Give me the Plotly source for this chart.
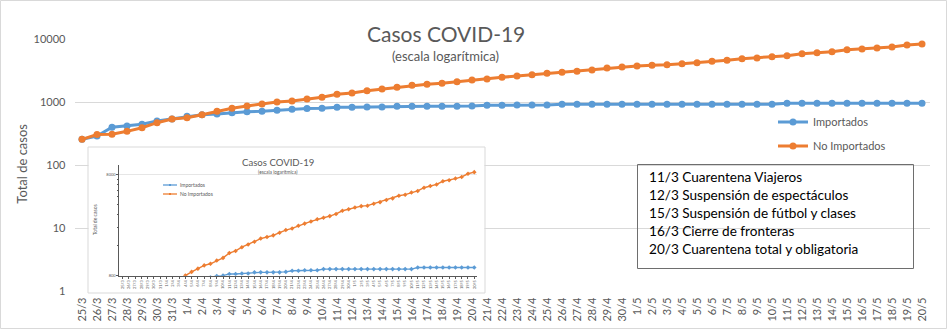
import plotly.graph_objects as go
import math

W, H = 947, 329

dates = (["25/3", "26/3", "27/3", "28/3", "29/3", "30/3", "31/3"]
         + [f"{d}/4" for d in range(1, 31)]
         + [f"{d}/5" for d in range(1, 21)])

importados = [258, 292, 401, 421, 447, 505, 543, 598, 636, 652,
              684, 710, 719, 746, 773, 795, 802, 832, 832, 842,
              842, 863, 863, 863, 863, 863, 873, 895, 895, 906,
              906, 906, 929, 929, 929, 929, 929, 929, 929, 929,
              929, 929, 929, 929, 929, 929, 929, 963, 963, 963,
              963, 963, 963, 963, 963, 963, 963]

no_importados = [258, 308, 312, 346, 395, 475, 543, 570, 636, 719,
                 802, 873, 939, 1011, 1049, 1128, 1199, 1338, 1405, 1530,
                 1626, 1728, 1860, 1929, 2001, 2126, 2259, 2343, 2490, 2615,
                 2746, 2883, 2990, 3101, 3256, 3501, 3631, 3768, 3890, 3930,
                 4105, 4260, 4470, 4639, 4927, 5047, 5298, 5497, 5915, 6139,
                 6370, 6842, 7015, 7278, 7552, 8119, 8424]

main_yticks = [1, 10, 100, 1000, 10000]
inset_yticks = [800, 8000]
inset_minor = [1600, 2400, 3200, 4000, 4800, 5600, 6400, 7200]

notas = ["11/3 Cuarentena Viajeros",
         "12/3 Suspensión de espectáculos",
         "15/3 Suspensión de fútbol y clases",
         "16/3 Cierre de fronteras",
         "20/3 Cuarentena total y obligatoria"]

BLUE = "#5B9BD5"
ORANGE = "#ED7D31"
GRAY = "#595959"
GRID = "#D9D9D9"
FONT = "Lato"


def px(x):
    return x / W


def py(y):
    return 1 - y / H


fig = go.Figure()

# main series
fig.add_trace(go.Scatter(x=dates, y=importados, name="Importados", mode="lines+markers",
                         line=dict(color=BLUE, width=3), marker=dict(size=7, color=BLUE),
                         legendgroup="a", xaxis="x", yaxis="y"))
fig.add_trace(go.Scatter(x=dates, y=no_importados, name="No Importados", mode="lines+markers",
                         line=dict(color=ORANGE, width=3), marker=dict(size=7, color=ORANGE),
                         legendgroup="b", xaxis="x", yaxis="y"))

# white box behind inset (empty subplot)
fig.add_trace(go.Scatter(x=[], y=[], xaxis="x2", yaxis="y2", showlegend=False, hoverinfo="skip"))

# inset series
fig.add_trace(go.Scatter(x=dates, y=importados, name="Importados", mode="lines+markers",
                         line=dict(color=BLUE, width=1.4), marker=dict(size=3.5, color=BLUE, symbol="diamond"),
                         showlegend=False, xaxis="x3", yaxis="y3"))
fig.add_trace(go.Scatter(x=dates, y=no_importados, name="No Importados", mode="lines+markers",
                         line=dict(color=ORANGE, width=1.4), marker=dict(size=3.5, color=ORANGE, symbol="diamond"),
                         showlegend=False, xaxis="x3", yaxis="y3"))

shapes = []
annotations = []

# outer border
shapes.append(dict(type="rect", xref="paper", yref="paper",
                   x0=px(0.5), x1=px(946.5), y0=py(328.5), y1=py(0.5),
                   line=dict(color=GRID, width=1)))
# inset border
shapes.append(dict(type="rect", xref="paper", yref="paper",
                   x0=px(88), x1=px(485), y0=py(293), y1=py(147),
                   line=dict(color=GRID, width=1)))
# notes box
shapes.append(dict(type="rect", xref="paper", yref="paper",
                   x0=px(637.5), x1=px(913.5), y0=py(268.5), y1=py(164.5),
                   line=dict(color="#6E6E6E", width=1)))

# titles
annotations.append(dict(text="Casos COVID-19", x=px(445.7), y=py(33.5), xref="paper", yref="paper",
                        xanchor="center", yanchor="middle", showarrow=False,
                        font=dict(family=FONT, size=21, color=GRAY)))
annotations.append(dict(text="(escala logarítmica)", x=px(445.5), y=py(56), xref="paper", yref="paper",
                        xanchor="center", yanchor="middle", showarrow=False,
                        font=dict(family=FONT, size=13, color=GRAY)))
annotations.append(dict(text="Total de casos", x=px(21.7), y=py(164), xref="paper", yref="paper",
                        xanchor="center", yanchor="middle", showarrow=False, textangle=-90,
                        font=dict(family=FONT, size=13, color=GRAY)))

# notes text
note_y = [176.7, 194.8, 212.9, 231.0, 249.0]
for t, yy in zip(notas, note_y):
    annotations.append(dict(text=t, x=px(646.5), y=py(yy), xref="paper", yref="paper",
                            xanchor="left", yanchor="middle", showarrow=False,
                            font=dict(family=FONT, size=13.6, color="#000000")))

# inset texts
annotations.append(dict(text="Casos COVID-19", x=px(277.7), y=py(162.3), xref="paper", yref="paper",
                        xanchor="center", yanchor="middle", showarrow=False,
                        font=dict(family=FONT, size=9.6, color=GRAY)))
annotations.append(dict(text="(escala logarítmica)", x=px(277.7), y=py(172.3), xref="paper", yref="paper",
                        xanchor="center", yanchor="middle", showarrow=False,
                        font=dict(family=FONT, size=4.8, color=GRAY)))
annotations.append(dict(text="Total de casos", x=px(95), y=py(220), xref="paper", yref="paper",
                        xanchor="center", yanchor="middle", showarrow=False, textangle=-90,
                        font=dict(family=FONT, size=5, color=GRAY)))

# inset legend (manual)
for name, col, yy in [("Importados", BLUE, 185), ("No Importados", ORANGE, 194)]:
    shapes.append(dict(type="line", xref="paper", yref="paper", x0=px(163), x1=px(177),
                       y0=py(yy), y1=py(yy), line=dict(color=col, width=1.3)))
    shapes.append(dict(type="rect", xref="paper", yref="paper", x0=px(169), x1=px(171),
                       y0=py(yy + 1), y1=py(yy - 1), fillcolor=col, line=dict(width=0)))
    annotations.append(dict(text=name, x=px(177.5), y=py(yy), xref="paper", yref="paper",
                            xanchor="left", yanchor="middle", showarrow=False,
                            font=dict(family=FONT, size=5, color=GRAY)))

fig.update_layout(
    template="none",
    width=W, height=H,
    margin=dict(l=0, r=0, t=0, b=0, pad=0, autoexpand=False),
    paper_bgcolor="white", plot_bgcolor="white",
    font=dict(family=FONT, color=GRAY),
    showlegend=True,
    legend=dict(x=px(773), y=py(107.5), xanchor="left", yanchor="top",
                font=dict(family=FONT, size=11, color=GRAY),
                bgcolor="rgba(0,0,0,0)", tracegroupgap=5, traceorder="grouped"),
    shapes=shapes,
    annotations=annotations,
    xaxis=dict(domain=[px(74.5), px(929.5)], anchor="y", type="category", automargin=False,
               range=[-0.5, len(dates) - 0.5], tickangle=-90, dtick=1,
               tickfont=dict(family=FONT, size=11, color=GRAY),
               showgrid=False, showline=False, zeroline=False, ticks="", ticklabelstandoff=3),
    yaxis=dict(domain=[py(291.3), py(39.3)], anchor="x", type="log", automargin=False,
               range=[0, 4], tickmode="array", tickvals=main_yticks,
               ticktext=[str(v) for v in main_yticks],
               tickfont=dict(family=FONT, size=11, color=GRAY),
               showgrid=True, gridcolor=GRID, gridwidth=1,
               showline=False, zeroline=False, ticks="", ticklabelstandoff=8),
    xaxis2=dict(domain=[px(88.5), px(484.5)], anchor="y2", visible=False, range=[0, 1],
                automargin=False),
    yaxis2=dict(domain=[py(292.5), py(147.5)], anchor="x2", visible=False, range=[0, 1],
                automargin=False),
    xaxis3=dict(domain=[px(119.4), px(477.4)], anchor="y3", type="category", automargin=False,
                range=[-0.5, len(dates) - 0.5], tickangle=-90, dtick=1,
                tickfont=dict(family=FONT, size=4, color=GRAY), layer="above traces",
                showgrid=False, showline=True, linecolor=GRAY, linewidth=1,
                ticks="outside", ticklen=2, tickcolor=GRAY, zeroline=False),
    yaxis3=dict(domain=[py(275.7), py(164.6)], anchor="x3", type="log", automargin=False,
                range=[math.log10(800), 4], tickmode="array", tickvals=inset_yticks,
                ticktext=[str(v) for v in inset_yticks],
                tickfont=dict(family=FONT, size=4, color=GRAY), layer="above traces",
                showgrid=True, gridcolor="#E6E6E6", showline=True, linecolor=GRAY, linewidth=1,
                ticks="outside", ticklen=2, tickcolor=GRAY, zeroline=False,
                minor=dict(tickmode="array", tickvals=inset_minor, ticks="outside",
                           ticklen=1.5, tickcolor=GRAY, showgrid=False)),
)

fig.write_html("out.html")
